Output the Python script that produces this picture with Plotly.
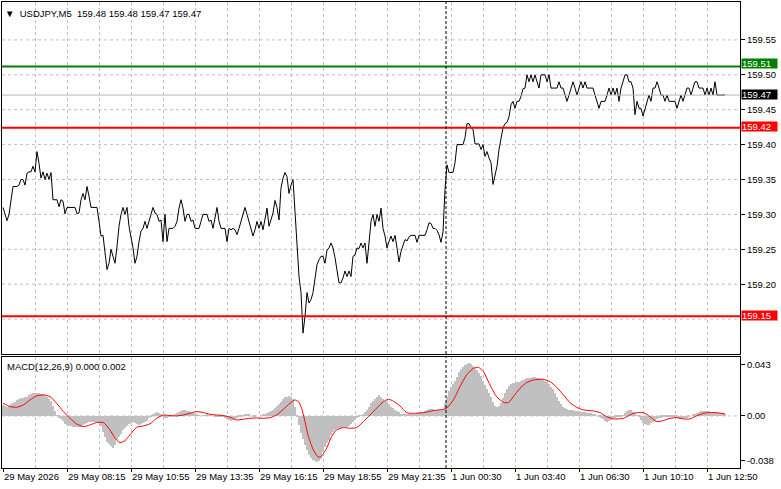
import plotly.graph_objects as go

# ---------------- data ----------------
symbol_title = "USDJPY,M5  159.48 159.48 159.47 159.47"
macd_title = "MACD(12,26,9) 0.000 0.002"

# M5 closes, one per bar (bar index 0 .. 361)
close = [
    159.310,159.302,159.291,159.300,159.323,159.340,159.340,159.340,159.342,159.350,
    159.350,159.342,159.359,159.361,159.361,159.369,159.361,159.390,159.373,159.352,
    159.361,159.350,159.359,159.350,159.360,159.321,159.321,159.321,159.311,159.321,
    159.319,159.301,159.310,159.310,159.310,159.310,159.310,159.301,159.302,159.321,
    159.330,159.321,159.340,159.326,159.310,159.310,159.310,159.310,159.290,159.269,
    159.270,159.240,159.221,159.230,159.250,159.240,159.230,159.254,159.283,159.300,
    159.310,159.300,159.310,159.283,159.269,159.252,159.230,159.240,159.261,159.276,
    159.280,159.290,159.280,159.290,159.300,159.310,159.302,159.300,159.290,159.292,
    159.261,159.300,159.261,159.280,159.280,159.280,159.283,159.290,159.309,159.321,
    159.309,159.290,159.300,159.300,159.290,159.292,159.280,159.280,159.280,159.290,
    159.300,159.300,159.300,159.290,159.292,159.280,159.297,159.310,159.290,159.280,
    159.280,159.280,159.261,159.280,159.278,159.280,159.278,159.271,159.280,159.290,
    159.300,159.310,159.300,159.290,159.280,159.269,159.278,159.290,159.280,159.290,
    159.278,159.292,159.309,159.283,159.292,159.302,159.320,159.310,159.292,159.338,
    159.352,159.360,159.354,159.330,159.342,159.350,159.304,159.250,159.211,159.188,
    159.130,159.154,159.188,159.173,159.178,159.188,159.207,159.228,159.235,159.240,
    159.240,159.230,159.249,159.252,159.259,159.252,159.238,159.216,159.202,159.202,
    159.209,159.219,159.211,159.219,159.211,159.240,159.242,159.252,159.251,159.259,
    159.252,159.259,159.230,159.259,159.290,159.300,159.283,159.300,159.290,159.309,
    159.280,159.269,159.252,159.261,159.269,159.261,159.270,159.252,159.232,159.247,
    159.256,159.264,159.262,159.268,159.270,159.270,159.270,159.260,159.270,159.270,
    159.270,159.270,159.278,159.288,159.287,159.280,159.280,159.277,159.271,159.260,
    159.275,159.336,159.371,159.360,159.360,159.360,159.374,159.400,159.400,159.400,
    159.400,159.410,159.430,159.430,159.424,159.422,159.401,159.401,159.401,159.393,
    159.400,159.383,159.390,159.381,159.374,159.343,159.355,159.369,159.393,159.410,
    159.424,159.430,159.432,159.440,159.457,159.462,159.452,159.462,159.462,159.469,
    159.480,159.481,159.500,159.490,159.500,159.490,159.500,159.490,159.481,159.500,
    159.500,159.500,159.490,159.500,159.481,159.481,159.481,159.481,159.490,159.481,
    159.481,159.471,159.462,159.471,159.481,159.490,159.481,159.471,159.481,159.490,
    159.481,159.490,159.481,159.481,159.481,159.481,159.471,159.462,159.452,159.462,
    159.462,159.462,159.471,159.481,159.471,159.481,159.471,159.481,159.462,159.481,
    159.490,159.500,159.500,159.490,159.490,159.481,159.443,159.462,159.452,159.452,
    159.441,159.452,159.462,159.471,159.462,159.481,159.481,159.490,159.481,159.471,
    159.471,159.462,159.471,159.462,159.462,159.462,159.462,159.452,159.462,159.471,
    159.462,159.471,159.481,159.481,159.471,159.481,159.490,159.490,159.481,159.481,
    159.481,159.471,159.481,159.471,159.481,159.471,159.490,159.471,159.471,159.471,
    159.471,159.471,
]

# MACD main line (drawn as histogram), one per bar
macd_main = [
    0.0093,0.0084,0.0079,0.0087,0.0098,0.0107,0.0118,0.0132,0.0143,0.0152,
    0.0155,0.0160,0.0163,0.0174,0.0183,0.0191,0.0194,0.0197,0.0194,0.0188,
    0.0183,0.0171,0.0163,0.0146,0.0126,0.0084,0.0045,0.0006,-0.0014,-0.0028,
    -0.0045,-0.0065,-0.0079,-0.0081,-0.0087,-0.0096,-0.0096,-0.0096,-0.0096,-0.0090,
    -0.0079,-0.0067,-0.0056,-0.0051,-0.0048,-0.0048,-0.0048,-0.0048,-0.0056,-0.0084,
    -0.0138,-0.0180,-0.0222,-0.0236,-0.0253,-0.0270,-0.0244,-0.0202,-0.0180,-0.0152,
    -0.0121,-0.0104,-0.0087,-0.0070,-0.0056,-0.0048,-0.0056,-0.0065,-0.0073,-0.0070,
    -0.0062,-0.0051,-0.0039,-0.0020,-0.0003,0.0011,0.0025,0.0037,0.0028,0.0017,
    -0.0003,-0.0014,-0.0017,-0.0011,-0.0003,0.0006,0.0014,0.0025,0.0037,0.0045,
    0.0051,0.0048,0.0045,0.0039,0.0034,0.0022,0.0014,0.0008,0.0003,0.0000,
    0.0003,0.0006,0.0008,0.0006,0.0003,0.0000,-0.0003,-0.0003,-0.0006,-0.0008,
    -0.0011,-0.0017,-0.0022,-0.0034,-0.0039,-0.0034,-0.0025,-0.0020,-0.0011,-0.0003,
    0.0006,0.0014,0.0017,0.0008,0.0000,-0.0006,-0.0003,0.0000,0.0000,0.0006,
    0.0008,0.0017,0.0025,0.0034,0.0042,0.0051,0.0067,0.0084,0.0101,0.0121,
    0.0141,0.0157,0.0163,0.0166,0.0160,0.0141,0.0079,-0.0006,-0.0079,-0.0146,
    -0.0197,-0.0244,-0.0287,-0.0329,-0.0351,-0.0371,-0.0379,-0.0385,-0.0379,-0.0365,
    -0.0301,-0.0259,-0.0230,-0.0202,-0.0160,-0.0132,-0.0118,-0.0110,-0.0104,-0.0101,
    -0.0096,-0.0093,-0.0090,-0.0081,-0.0070,-0.0051,-0.0034,-0.0017,-0.0006,0.0006,
    0.0020,0.0037,0.0051,0.0079,0.0107,0.0129,0.0146,0.0163,0.0174,0.0160,
    0.0146,0.0129,0.0124,0.0099,0.0076,0.0064,0.0052,0.0042,0.0034,0.0008,
    0.0008,0.0008,0.0008,0.0011,0.0014,0.0017,0.0020,0.0022,0.0025,0.0031,
    0.0037,0.0045,0.0051,0.0059,0.0062,0.0056,0.0053,0.0051,0.0048,0.0048,
    0.0062,0.0107,0.0157,0.0208,0.0242,0.0267,0.0298,0.0332,0.0371,0.0396,
    0.0413,0.0427,0.0438,0.0444,0.0438,0.0422,0.0405,0.0388,0.0365,0.0337,
    0.0298,0.0264,0.0230,0.0197,0.0157,0.0115,0.0084,0.0073,0.0084,0.0107,
    0.0155,0.0197,0.0228,0.0253,0.0267,0.0275,0.0281,0.0284,0.0287,0.0292,
    0.0301,0.0309,0.0318,0.0320,0.0323,0.0326,0.0326,0.0323,0.0320,0.0315,
    0.0309,0.0298,0.0284,0.0270,0.0247,0.0225,0.0197,0.0163,0.0129,0.0098,
    0.0079,0.0067,0.0059,0.0053,0.0051,0.0048,0.0045,0.0042,0.0039,0.0037,
    0.0034,0.0031,0.0028,0.0025,0.0022,0.0017,0.0008,0.0000,-0.0006,-0.0014,
    -0.0028,-0.0042,-0.0048,-0.0042,-0.0034,-0.0020,-0.0014,-0.0011,-0.0008,-0.0006,
    0.0003,0.0022,0.0039,0.0048,0.0048,0.0037,0.0022,0.0006,-0.0011,-0.0034,
    -0.0056,-0.0070,-0.0076,-0.0073,-0.0062,-0.0051,-0.0039,-0.0028,-0.0020,-0.0014,
    -0.0011,-0.0008,-0.0006,-0.0006,-0.0006,-0.0006,-0.0008,-0.0014,-0.0022,-0.0028,
    -0.0025,-0.0020,-0.0017,-0.0008,0.0000,0.0008,0.0017,0.0025,0.0034,0.0039,
    0.0042,0.0042,0.0042,0.0039,0.0037,0.0034,0.0031,0.0028,0.0025,0.0022,
    0.0020,0.0017,
]

# MACD signal line, read at these bar positions
signal_bar = [0,3.5,6.8,10.2,13.5,16.8,20.2,23.5,26.8,30.2,33.5,36.8,40.2,43.5,46.8,50.2,
              53.5,56,58.5,61,63.5,66.8,70.2,73.5,76.8,80.2,83.5,86.8,90.2,93.5,96.8,100.2,
              103.5,106.8,110.2,113.5,116.8,120.2,123.5,126.8,130.2,133.5,136.8,140.2,143.5,
              146,147.7,149.3,151,152.7,155.2,157.7,159.3,161.8,164.3,166.8,170.2,173.5,176.8,
              180.2,183.5,186.8,190.2,192.7,195.2,198.5,201.8,205.2,210.2,215.2,220.2,221.8,
              225.2,228.5,231.8,235.2,237.7,240.2,243.5,246.8,250.2,252.7,255.2,258.5,261.8,
              265.2,270.2,273.5,276.8,280.2,283.5,286.8,290.2,295.2,298.5,301.8,305.2,310.2,
              315.2,320.2,323.5,326.8,330.2,333.5,336.8,340.2,343.5,346.8,350.2,353.5,356.8,361]
signal_val = [0.0107,0.0079,0.0073,0.0093,0.0135,0.0169,0.0177,0.0163,0.0107,0.0037,-0.0020,
              -0.0067,-0.0090,-0.0076,-0.0056,-0.0056,-0.0118,-0.0188,-0.0225,-0.0208,-0.0160,
              -0.0096,-0.0084,-0.0067,-0.0020,0.0008,0.0003,0.0000,0.0008,0.0022,0.0037,0.0028,
              0.0014,0.0008,0.0003,-0.0011,-0.0034,-0.0028,-0.0020,-0.0017,-0.0020,-0.0014,
              0.0008,0.0056,0.0107,0.0135,0.0121,0.0065,-0.0048,-0.0174,-0.0287,-0.0348,-0.0337,
              -0.0273,-0.0174,-0.0118,-0.0098,-0.0104,-0.0098,-0.0048,0.0008,0.0065,0.0121,
              0.0141,0.0125,0.0084,0.0028,0.0022,0.0028,0.0045,0.0056,0.0065,0.0135,0.0247,
              0.0346,0.0402,0.0410,0.0374,0.0261,0.0163,0.0115,0.0112,0.0163,0.0233,0.0281,
              0.0303,0.0309,0.0289,0.0242,0.0177,0.0112,0.0073,0.0051,0.0042,0.0028,-0.0006,
              -0.0025,-0.0020,0.0022,0.0028,-0.0006,-0.0048,-0.0039,-0.0020,-0.0014,-0.0025,
              -0.0025,0.0000,0.0022,0.0028,0.0028,0.0017]

# time axis labels (bar index where each label sits)
time_label_bar = [0, 32, 64, 96, 128, 160, 192, 224, 256, 288, 320, 352]
time_labels = ["29 May 2026", "29 May 08:15", "29 May 10:55", "29 May 13:35",
               "29 May 16:15", "29 May 18:55", "29 May 21:35", "1 Jun 00:30",
               "1 Jun 03:40", "1 Jun 06:30", "1 Jun 10:10", "1 Jun 12:50"]
day_break_bar = 222          # first bar of 1 Jun

price_ticks = [159.20, 159.25, 159.30, 159.35, 159.40, 159.45, 159.50, 159.55]
price_grid = [159.15] + price_ticks
macd_ticks = [0.043, 0.0, -0.038]
macd_tick_text = ["0.043", "0.00", "-0.038"]

level_green = 159.512
level_red_hi = 159.424
level_red_lo = 159.154
last_price = 159.471

# ---------------- figure ----------------
FONT = "Liberation Sans, Arial, sans-serif"
FS = 9.5
GRID = "#c0c0c0"
GDASH = "3px,3px"
bars = list(range(len(close)))

fig = go.Figure()
fig.add_trace(go.Scatter(x=bars, y=close, mode="lines",
                         line=dict(color="black", width=1),
                         xaxis="x", yaxis="y", hoverinfo="skip"))
fig.add_trace(go.Bar(x=bars, y=macd_main, width=1,
                     marker=dict(color="#c0c0c0", line=dict(width=0)),
                     xaxis="x2", yaxis="y2", hoverinfo="skip"))
fig.add_trace(go.Scatter(x=signal_bar, y=signal_val, mode="lines",
                         line=dict(color="red", width=1, shape="spline", smoothing=0.6),
                         xaxis="x2", yaxis="y2", hoverinfo="skip"))

xr = [-0.5, 368.5]
main_dom = [0.2446, 1.0]
macd_dom = [0.0, 0.2382]

fig.update_layout(
    width=781, height=489,
    margin=dict(l=2, r=41, t=2, b=21, autoexpand=False),
    paper_bgcolor="white", plot_bgcolor="white",
    showlegend=False, bargap=0,
    font=dict(family=FONT, size=FS, color="black"),
    xaxis=dict(domain=[0, 1], range=xr, anchor="y", showticklabels=False,
               tickmode="linear", tick0=0, dtick=16, ticks="", automargin=False,
               showgrid=True, gridcolor=GRID, griddash=GDASH, gridwidth=1,
               showline=True, mirror=True, linecolor="black", linewidth=1,
               zeroline=False),
    yaxis=dict(domain=main_dom, range=[159.1, 159.6043], side="right", automargin=False,
               tickvals=price_ticks, ticktext=[f"{v:.2f}" for v in price_ticks],
               ticks="outside", ticklen=4, tickcolor="black",
               showgrid=False,
               showline=True, mirror=True, linecolor="black", linewidth=1,
               zeroline=False, tickfont=dict(family=FONT, size=FS, color="black")),
    xaxis2=dict(domain=[0, 1], range=xr, anchor="y2", matches="x", automargin=False,
                tickmode="array", tickvals=time_label_bar, ticktext=time_labels,
                tickangle=0, ticks="outside", ticklen=3, tickcolor="black",
                ticklabelposition="outside right",
                showgrid=True, gridcolor=GRID, griddash=GDASH, gridwidth=1,
                minor=dict(tickmode="linear", tick0=0, dtick=16, showgrid=True,
                           gridcolor=GRID, griddash=GDASH, gridwidth=1, ticks=""),
                showline=True, mirror=True, linecolor="black", linewidth=1,
                zeroline=False, tickfont=dict(family=FONT, size=FS, color="black")),
    yaxis2=dict(domain=macd_dom, range=[-0.0439, 0.0497], side="right", automargin=False,
                tickvals=macd_ticks, ticktext=macd_tick_text,
                ticks="outside", ticklen=4, tickcolor="black",
                showgrid=False, showline=True, mirror=True, linecolor="black",
                linewidth=1, zeroline=False,
                tickfont=dict(family=FONT, size=FS, color="black")),
)

shapes = []
# horizontal price grid
for g in price_grid:
    shapes.append(dict(type="line", xref="x domain", x0=0, x1=1, yref="y", y0=g, y1=g,
                       line=dict(color=GRID, width=1, dash=GDASH), layer="below"))
# MACD zero level
shapes.append(dict(type="line", xref="x2 domain", x0=0, x1=1, yref="y2", y0=0, y1=0,
                   line=dict(color=GRID, width=1, dash=GDASH), layer="below"))
# current price line
shapes.append(dict(type="line", xref="x domain", x0=0, x1=1, yref="y",
                   y0=last_price, y1=last_price, line=dict(color="#b4b4b4", width=1)))
# level lines
for lvl, col in [(level_green, "#008000"), (level_red_hi, "#ff0000"), (level_red_lo, "#ff0000")]:
    shapes.append(dict(type="line", xref="x domain", x0=0, x1=1, yref="y",
                       y0=lvl, y1=lvl, line=dict(color=col, width=2)))
# day separator (both panels)
for yref in ["y domain", "y2 domain"]:
    shapes.append(dict(type="line", xref="x", x0=day_break_bar - 0.5, x1=day_break_bar - 0.5,
                       yref=yref, y0=0, y1=1, line=dict(color="black", width=1, dash="3px,2px")))
fig.update_layout(shapes=shapes)

ann = []
ann.append(dict(text="\u25BC  " + symbol_title, xref="paper", yref="paper", x=0, y=1,
                xanchor="left", yanchor="top", xshift=1, yshift=-4, showarrow=False,
                font=dict(family=FONT, size=FS, color="black")))
ann.append(dict(text=macd_title, xref="paper", yref="paper", x=0, y=macd_dom[1],
                xanchor="left", yanchor="top", xshift=3, yshift=-2, showarrow=False,
                font=dict(family=FONT, size=FS, color="black")))
for lvl, col, ysh in [(level_green, "#008000", 3), (last_price, "black", 1),
                      (level_red_hi, "#ff0000", 1), (level_red_lo, "#ff0000", 1)]:
    ann.append(dict(text=f"{lvl:.2f}", xref="paper", yref="y", x=1, y=lvl,
                    xanchor="left", yanchor="middle", xshift=1, yshift=ysh, showarrow=False,
                    bgcolor=col, width=35, height=9, align="left", borderpad=0,
                    font=dict(family=FONT, size=FS, color="white")))
fig.update_layout(annotations=ann)

fig.write_html("out.html")
